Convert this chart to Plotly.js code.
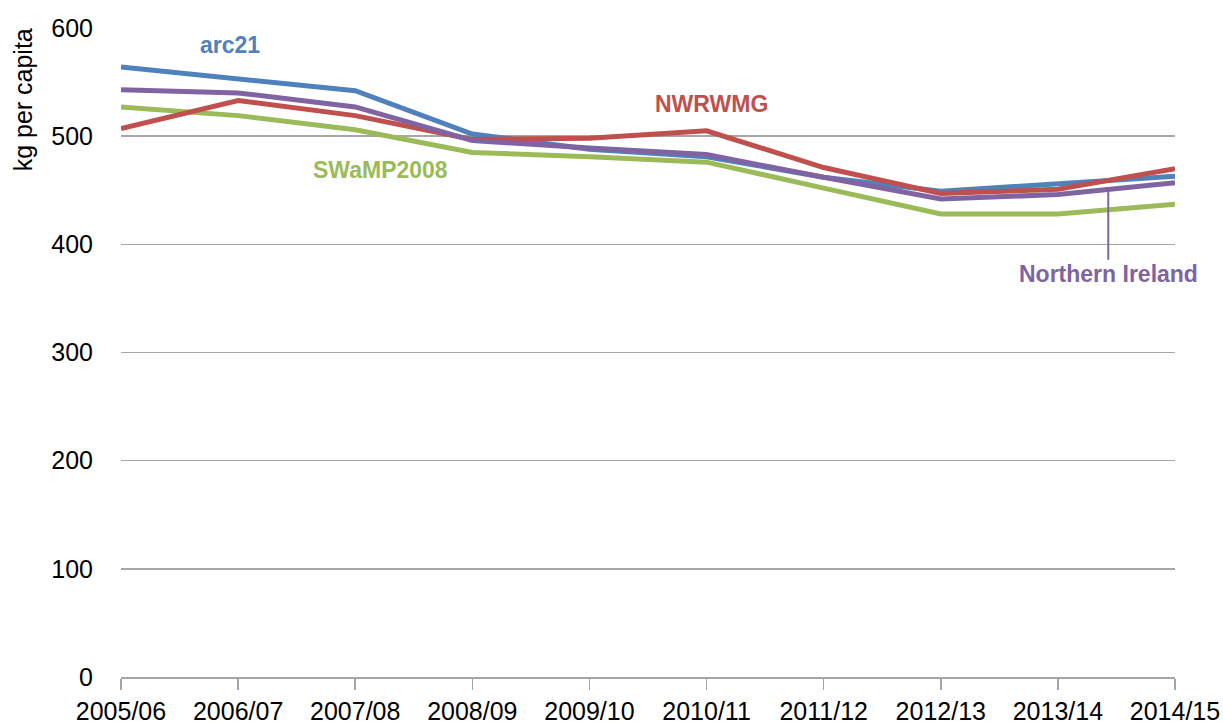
<!DOCTYPE html>
<html><head><meta charset="utf-8">
<script src="https://cdn.plot.ly/plotly-3.0.1.min.js"></script>
<style>html,body{margin:0;padding:0;background:#fff}</style>
</head><body>
<div id="chart" style="width:1223px;height:726px"></div>
<script>
const years = ["2005/06","2006/07","2007/08","2008/09","2009/10","2010/11","2011/12","2012/13","2013/14","2014/15"];
const arc21 = [564, 553, 542, 502, 488, 481, 462, 449, 456, 463];
const nwrwmg = [507, 533, 519, 497, 498, 505, 471, 447, 451, 470];
const swamp = [527, 519, 506, 485, 481, 476, 452, 428, 428, 437];
const ni = [543, 540, 527, 496, 489, 483, 462, 442, 446, 457];
const yTicks = [0, 100, 200, 300, 400, 500, 600];

const F = "Liberation Sans Narrow, Arial Narrow, sans-serif";
function tr(y, color, name){ return {x: years, y: y, name: name, type: 'scatter', mode: 'lines', line: {color: color, width: 5}, hoverinfo:'skip'}; }
const data = [
  tr(arc21, '#4F81BD', 'arc21'),
  tr(swamp, '#9BBB59', 'SWaMP2008'),
  tr(nwrwmg, '#C0504D', 'NWRWMG'),
  tr(ni, '#8064A2', 'Northern Ireland')
];
const layout = {
  width: 1223, height: 726,
  margin: {l: 121, r: 48, t: 28, b: 49},
  showlegend: false,
  plot_bgcolor: '#fff', paper_bgcolor: '#fff',
  xaxis: {type: 'category', range: [0, 9], showgrid: false, showline: true, linecolor: '#A6A6A6', linewidth: 2,
          ticks: 'outside', ticklen: 11, tickcolor: '#A6A6A6', tickwidth: 1.5,
          tickfont: {family: F, size: 25, color: '#000'}, zeroline: false},
  yaxis: {range: [0, 600], tickvals: yTicks, showgrid: true, gridcolor: '#A6A6A6', gridwidth: 1.5,
          showline: false, zeroline: false, ticks: '', ticklabelstandoff: 27,
          tickfont: {family: F, size: 25, color: '#000'}},
  annotations: [
    {text: 'kg per capita', xref: 'paper', yref: 'paper', x: -0.093, y: 0.89, xanchor: 'center', yanchor: 'middle',
     textangle: -90, showarrow: false, font: {family: 'Liberation Sans, Arial, sans-serif', size: 25, color: '#000'}},
    {text: '<b>arc21</b>', x: 0.93, y: 584, xref: 'x', yref: 'y', showarrow: false, font: {family: F, size: 23, color: '#4F81BD'}},
    {text: '<b>NWRWMG</b>', x: 5.04, y: 530, xref: 'x', yref: 'y', showarrow: false, font: {family: F, size: 23, color: '#C0504D'}},
    {text: '<b>SWaMP2008</b>', x: 2.22, y: 469, xref: 'x', yref: 'y', showarrow: false, font: {family: F, size: 23, color: '#9BBB59'}},
    {text: '<b>Northern Ireland</b>', x: 8.43, y: 450, xref: 'x', yref: 'y', showarrow: true, arrowhead: 0, arrowwidth: 2,
     arrowcolor: '#8064A2', ax: 0, ay: 84, standoff: 0, font: {family: F, size: 23, color: '#8064A2'}}
  ]
};
Plotly.newPlot('chart', data, layout, {displayModeBar: false, staticPlot: true});
</script>
</body></html>
